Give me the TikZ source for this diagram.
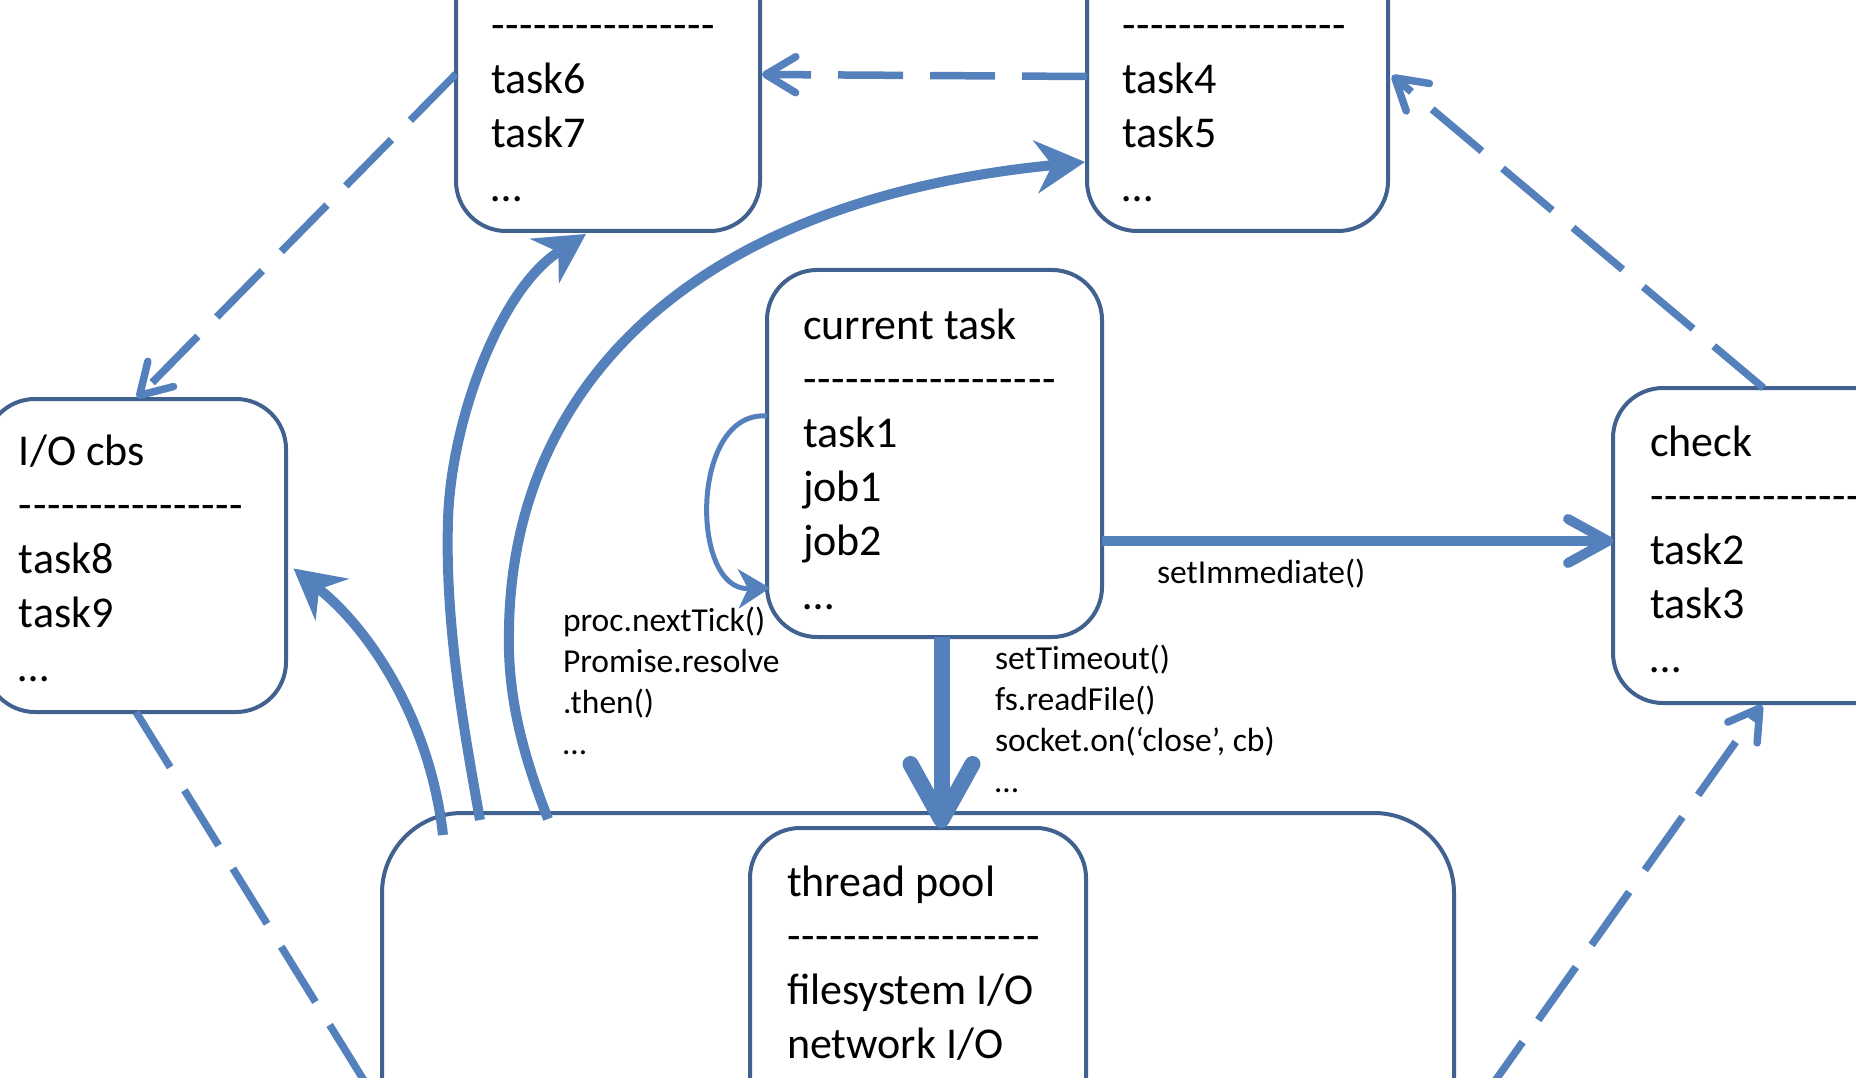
\documentclass[tikz,border=0pt]{standalone}
\usepackage{fontspec}
\setmainfont{Carlito}
\usetikzlibrary{arrows.meta,calc}
\definecolor{boxc}{RGB}{65,97,143}
\definecolor{linec}{RGB}{84,128,188}
\newcommand\dashrow[1]{\foreach\i in {1,...,#1}{-\kern0.6pt}}
\begin{document}
\begin{tikzpicture}[x=1pt,y=-1pt,
  box/.style={draw=boxc, line width=4pt, rounded corners=50pt, inner sep=0pt, outer sep=0pt},
  txt/.style={inner sep=0pt, outer sep=0pt, anchor=base west, font=\fontsize{44}{54}\selectfont},
  lbl/.style={inner sep=0pt, outer sep=0pt, anchor=base west, font=\fontsize{33.5}{41}\selectfont},
  dshline/.style={draw=linec, line width=7.5pt, dash pattern=on 65pt off 27pt},
  dsharrow/.style={dshline, -{Straight Barb[length=30pt,width=36pt,round]}},
  chev/.style={draw=linec, line width=10pt, -{Straight Barb[length=40pt,width=44pt,round]}},
  chevbig/.style={draw=linec, line width=16pt, -{Straight Barb[length=56pt,width=62pt,round]}},
  curv/.style={draw=linec, line width=10pt, -{Stealth[length=50pt,width=54pt,inset=17pt,line width=0pt]}},
  loopst/.style={draw=linec, line width=5pt, -{Stealth[length=32pt,width=40pt,inset=10pt,line width=0pt]}}
]
\useasboundingbox (0,0) rectangle (1856,1078);
\clip (0,0) rectangle (1856,1078);

% boxes
\node[box, minimum width=304pt, minimum height=351pt] (t6) at (608,55.5) {};
\node[box, minimum width=301pt, minimum height=351pt] (t4) at (1237.5,55.5) {};
\node[box, minimum width=301pt, minimum height=313pt] (io) at (135.5,555.5) {};
\node[box, minimum width=335pt, minimum height=367pt] (cur) at (934.5,453.5) {};
\node[box, minimum width=340pt, minimum height=315pt] (chk) at (1783,545.5) {};
\node[box, rounded corners=80pt, minimum width=1072pt, minimum height=487pt] (big) at (918,1056.5) {};
\node[box, minimum width=336pt, minimum height=372pt] (tp) at (918,1014) {};

% box texts
\node[txt] (t6t) at (491,39.7) {\begin{tabular}[t]{@{}l@{}}\dashrow{16}\\task6\\task7\\…\end{tabular}};
\node[txt] (t4t) at (1122,39.7) {\begin{tabular}[t]{@{}l@{}}\dashrow{16}\\task4\\task5\\…\end{tabular}};
\node[txt] (iot) at (19,465) {\begin{tabular}[t]{@{}l@{}}I/O cbs\\\dashrow{16}\\task8\\task9\\…\end{tabular}};
\node[txt] (curt) at (803,339.5) {\begin{tabular}[t]{@{}l@{}}current task\\\dashrow{18}\\task1\\job1\\job2\\…\end{tabular}};
\node[txt] (chkt) at (1650,456) {\begin{tabular}[t]{@{}l@{}}check\\\dashrow{18}\\task2\\task3\\…\end{tabular}};
\node[txt] (tpt) at (787,896) {\begin{tabular}[t]{@{}l@{}}thread pool\\\dashrow{18}\\filesystem I/O\\network I/O\end{tabular}};

% labels
\node[lbl] (si) at (1157,583) {setImmediate()};
\node[lbl] (st) at (995,669) {\begin{tabular}[t]{@{}l@{}}setTimeout()\\fs.readFile()\\socket.on(‘close’, cb)\\…\end{tabular}};
\node[lbl] (pn) at (563,631) {\begin{tabular}[t]{@{}l@{}}proc.nextTick()\\Promise.resolve\\.then()\\…\end{tabular}};

% dashed connectors
\coordinate (pl) at (373,1095);
\coordinate (pr) at (1485,1095);
\draw[dsharrow] ([yshift=-21pt]t4.west) -- ([xshift=2pt,yshift=-19pt]t6.east);
\draw[dsharrow] ([yshift=-18.5pt]t6.west) -- ([xshift=1.5pt,yshift=1pt]io.north);
\draw[dshline] ([xshift=0.5pt]io.south) -- (pl);
\draw[dsharrow] ([xshift=-19.5pt]chk.north) -- ([xshift=4pt,yshift=-20pt]t4.east);
\draw[dsharrow] (pr) -- ([xshift=-21pt,yshift=-2pt]chk.south);

% solid connectors
\draw[chev] ([yshift=-87.5pt]cur.east) -- ([yshift=4.5pt]chk.west);
\draw[chevbig] ([xshift=7pt]cur.south) -- ([xshift=23.5pt]tp.north);

\draw[curv] ([xshift=61pt,yshift=-22pt]big.north west) .. controls (430,720) and (370,630) .. ([xshift=7.5pt,yshift=-13pt]io.east);
\draw[curv] ([xshift=98pt,yshift=-7pt]big.north west) .. controls (462,720) and (445,620) .. (448,520) .. controls (451,420) and (500,290) .. ([xshift=-22pt,yshift=-3pt]t6.south);
\draw[curv] ([xshift=166pt,yshift=-6pt]big.north west) .. controls (525,760) and (507,700) .. (509,630) .. controls (512,380) and (700,200) .. ([xshift=-2pt,yshift=-106.5pt]t4.west);

\draw[loopst] ([yshift=37.5pt]cur.west) .. controls (690,410) and (690,590) .. ([xshift=3pt,yshift=-134.5pt]cur.west);
\end{tikzpicture}
\end{document}
